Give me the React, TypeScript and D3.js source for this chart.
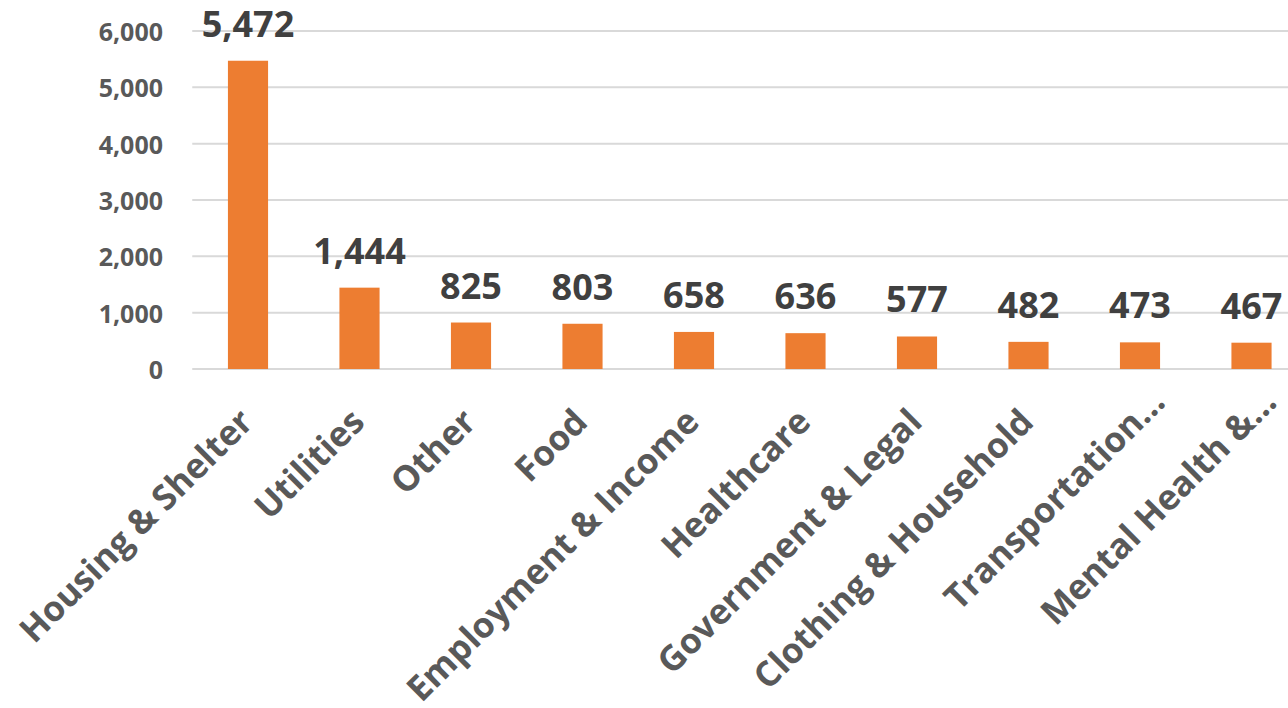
import React from "react";
import * as d3 from "d3";

const categories = [
  "Housing & Shelter",
  "Utilities",
  "Other",
  "Food",
  "Employment & Income",
  "Healthcare",
  "Government & Legal",
  "Clothing & Household",
  "Transportation…",
  "Mental Health &…",
];
const values = [5472, 1444, 825, 803, 658, 636, 577, 482, 473, 467];
const yTicks = [0, 1000, 2000, 3000, 4000, 5000, 6000];

const W = 1288;
const H = 708;
const FONT = "'Open Sans', 'Noto Sans', sans-serif";

export default function App() {
  const x = d3
    .scaleBand<string>()
    .domain(categories)
    .range([192.25, 1307.25])
    .paddingInner(0.64)
    .paddingOuter(0.32);
  const y = d3.scaleLinear().domain([0, 6000]).range([369, 31]);
  const fmt = d3.format(",");

  return (
    <svg
      width={W}
      height={H}
      style={{ position: "absolute", left: 0, top: 0, background: "#fff" }}
      fontFamily={FONT}
    >
      {yTicks.map((t) => (
        <g key={t}>
          <line x1={192.25} x2={1307.25} y1={y(t)} y2={y(t)} stroke="#d9d9d9" strokeWidth={2} />
          <text
            x={163}
            y={y(t)}
            textAnchor="end"
            dominantBaseline="central"
            fontSize={25}
            fontWeight={700}
            fill="#595959"
          >
            {fmt(t)}
          </text>
        </g>
      ))}
      {categories.map((c, i) => {
        const bx = x(c)!;
        const cx = bx + x.bandwidth() / 2;
        const v = values[i];
        const trunc = c.endsWith("…");
        const ax = cx + 7 + (trunc ? 20 : 0);
        const ay = 424 - (trunc ? 20 : 0);
        return (
          <g key={c}>
            <rect x={bx} y={y(v)} width={x.bandwidth()} height={y(0) - y(v)} fill="#ED7D31" />
            <text
              x={cx}
              y={y(v) - 24}
              textAnchor="middle"
              fontSize={36}
              fontWeight={700}
              fill="#404040"
            >
              {fmt(v)}
            </text>
            <text
              transform={`translate(${ax},${ay}) rotate(-45)`}
              textAnchor="end"
              fontSize={35}
              fontWeight={700}
              fill="#595959"
            >
              {c}
            </text>
          </g>
        );
      })}
    </svg>
  );
}
